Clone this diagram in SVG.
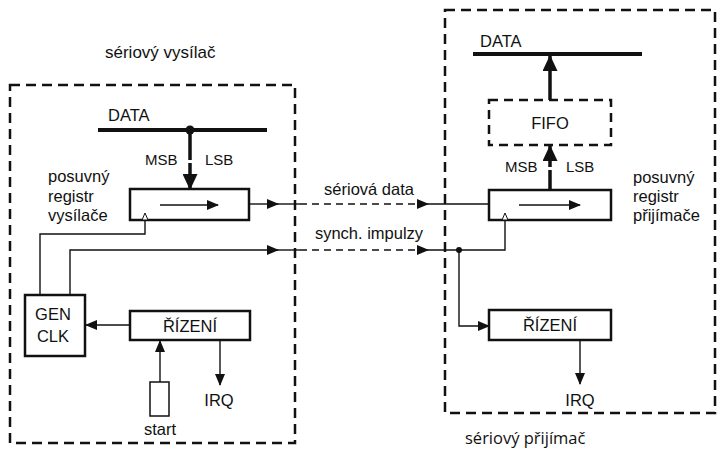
<svg xmlns="http://www.w3.org/2000/svg" width="724" height="452" viewBox="0 0 724 452">
<defs>
<style>
text{font-family:"Liberation Sans",Arial,sans-serif;font-size:16.5px;fill:#111}
.box{fill:#fff;stroke:#111;stroke-width:2.5}
.frame{fill:none;stroke:#111;stroke-width:2.5;stroke-dasharray:10 6}
.ln{fill:none;stroke:#111;stroke-width:1.4}
.dl{fill:none;stroke:#111;stroke-width:1.4;stroke-dasharray:7 5}
.bus{fill:none;stroke:#111;stroke-width:4}
.thick{fill:none;stroke:#111;stroke-width:3.5}
.mid{text-anchor:middle}
.sm{font-size:15px}
</style>
<marker id="a" markerUnits="userSpaceOnUse" markerWidth="12" markerHeight="10" refX="11" refY="5" orient="auto"><path d="M0,0 L12,5 L0,10 z" fill="#111"/></marker>
<marker id="A" markerUnits="userSpaceOnUse" markerWidth="16" markerHeight="15" refX="15" refY="7.5" orient="auto"><path d="M0,0 L16,7.5 L0,15 z" fill="#111"/></marker>
</defs>
<rect width="724" height="452" fill="#fff"/>

<g id="transmitter-frame">
<rect class="frame" x="10" y="85" width="285" height="358"/>
<text x="105" y="58" style="font-size:17px">sériový vysílač</text>
</g>
<g id="receiver-frame">
<rect class="frame" x="445" y="10" width="270" height="403"/>
<text x="465" y="444" style="font-family:'Open Sans','Noto Sans',sans-serif;font-size:16.5px">sériový přijímač</text>
</g>

<g id="tx-data">
<line class="bus" x1="98" y1="130" x2="267" y2="130"/>
<circle cx="190" cy="130" r="4.5" fill="#111"/>
<text x="108" y="121">DATA</text>
</g>
<g id="tx-register">
<rect class="box" x="130" y="189" width="119" height="31"/>
<line class="ln" x1="160" y1="205" x2="218" y2="205" marker-end="url(#a)"/>
<polygon points="142,220 145,213 148,220" fill="#fff" stroke="#111" stroke-width="1"/>
<text x="48" y="182">posuvný</text>
<text x="48" y="202">registr</text>
<text x="48" y="221">vysílače</text>
<text class="sm" x="145" y="165">MSB</text>
<text class="sm" x="205" y="165">LSB</text>
</g>
<g id="tx-genclk">
<rect class="box" x="25" y="295" width="60" height="61"/>
<text class="mid" x="53" y="320">GEN</text>
<text class="mid" x="53" y="342">CLK</text>
</g>
<g id="tx-control">
<rect class="box" x="130" y="311" width="120" height="29"/>
<text class="mid" x="190" y="332">ŘÍZENÍ</text>
</g>
<g id="tx-start">
<rect x="150" y="382" width="19" height="34" fill="#fff" stroke="#111" stroke-width="1.5"/>
<text class="mid" x="160" y="435">start</text>
</g>
<g id="tx-irq">
<text class="mid" x="219" y="406">IRQ</text>
</g>

<g id="rx-data">
<line class="bus" x1="473" y1="54" x2="642" y2="54"/>
<text x="480" y="47">DATA</text>
</g>
<g id="rx-fifo">
<rect x="489" y="100" width="122" height="45" fill="#fff" stroke="#111" stroke-width="2.5" stroke-dasharray="9 6"/>
<text class="mid" x="550" y="129">FIFO</text>
</g>
<g id="rx-register">
<rect class="box" x="489" y="190" width="122" height="30"/>
<line class="ln" x1="519" y1="205" x2="580" y2="205" marker-end="url(#a)"/>
<polygon points="502,220 505,213 508,220" fill="#fff" stroke="#111" stroke-width="1"/>
<text x="633" y="183">posuvný</text>
<text x="633" y="202">registr</text>
<text x="633" y="221">přijímače</text>
<text class="sm" x="505" y="172">MSB</text>
<text class="sm" x="566" y="172">LSB</text>
</g>
<g id="rx-control">
<rect class="box" x="489" y="310" width="122" height="30"/>
<text class="mid" x="550" y="331">ŘÍZENÍ</text>
</g>
<g id="rx-irq">
<text class="mid" x="580" y="406">IRQ</text>
</g>

<g id="connectors">
<line class="thick" x1="190" y1="130" x2="190" y2="160"/>
<line class="thick" x1="190" y1="163" x2="190" y2="189" marker-end="url(#A)"/>
<line class="thick" x1="550" y1="100" x2="550" y2="56" marker-end="url(#A)"/>
<line class="thick" x1="550" y1="190" x2="550" y2="170"/>
<line class="thick" x1="550" y1="167" x2="550" y2="146" marker-end="url(#A)"/>

<line class="ln" x1="249" y1="204" x2="278" y2="204" marker-end="url(#a)"/>
<line class="ln" x1="277" y1="204" x2="300" y2="204"/>
<line class="dl" x1="300" y1="204" x2="428" y2="204" marker-end="url(#a)"/>
<line class="ln" x1="427" y1="204" x2="489" y2="204"/>
<text class="mid" x="369" y="195">sériová data</text>

<path class="ln" d="M70,295 V250 H278" marker-end="url(#a)"/>
<line class="ln" x1="277" y1="250" x2="300" y2="250"/>
<line class="dl" x1="300" y1="250" x2="428" y2="250" marker-end="url(#a)"/>
<path class="ln" d="M427,250 H505 V221"/>
<circle cx="459" cy="250" r="3" fill="#111"/>
<path class="ln" d="M459,250 V326 H489" marker-end="url(#a)"/>
<text class="mid" x="369" y="239">synch. impulzy</text>

<path class="ln" d="M145,220 V234 H40 V295"/>
<line class="ln" x1="130" y1="325" x2="86" y2="325" marker-end="url(#a)"/>
<line class="ln" x1="160" y1="382" x2="160" y2="341" marker-end="url(#a)"/>
<line class="ln" x1="220" y1="340" x2="220" y2="385" marker-end="url(#a)"/>
<line class="ln" x1="580" y1="340" x2="580" y2="384" marker-end="url(#a)"/>
</g>
</svg>
